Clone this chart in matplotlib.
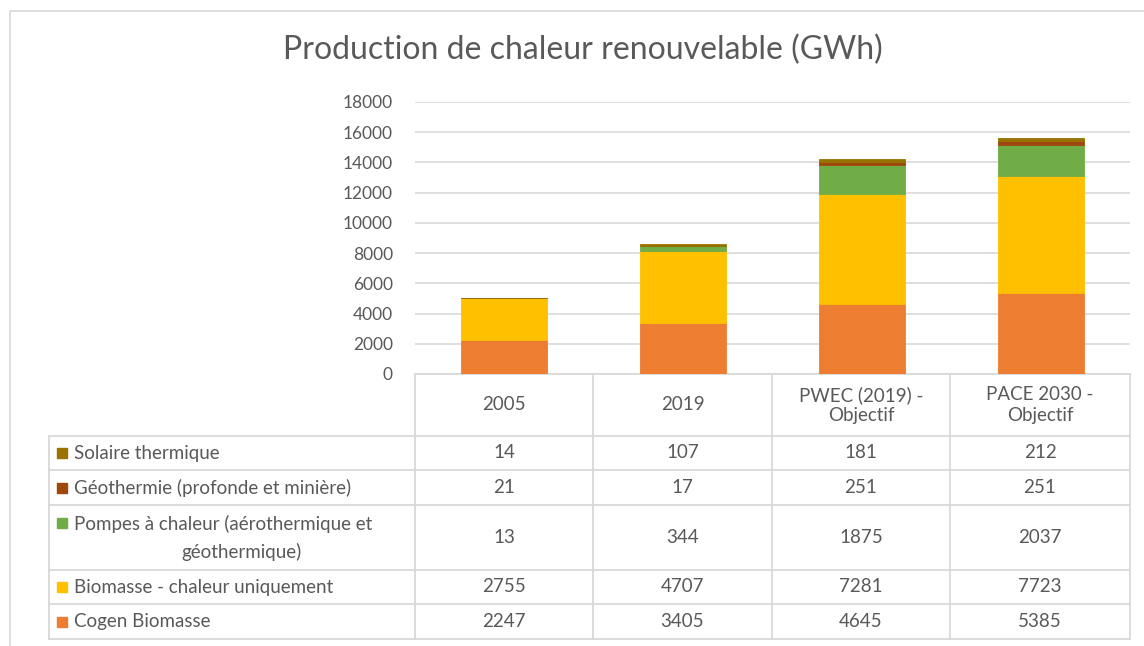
import matplotlib.pyplot as plt
from matplotlib.patches import Rectangle

plt.rcParams['font.family'] = ['Lato', 'DejaVu Sans']

# Data
categories = ["2005", "2019", "PWEC (2019) -\nObjectif", "PACE 2030 -\nObjectif"]
series_names = ["Cogen Biomasse", "Biomasse - chaleur uniquement",
                "Pompes à chaleur (aérothermique et\ngéothermique)",
                "Géothermie (profonde et minière)", "Solaire thermique"]
cogen = [2247, 3405, 4645, 5385]
biomasse = [2755, 4707, 7281, 7723]
pompes = [13, 344, 1875, 2037]
geothermie = [21, 17, 251, 251]
solaire = [14, 107, 181, 212]
series = [cogen, biomasse, pompes, geothermie, solaire]
colors = ["#ED7D31", "#FFC000", "#70AD47", "#9E480E", "#997300"]
yticks = [0, 2000, 4000, 6000, 8000, 10000, 12000, 14000, 16000, 18000]

W, H = 1144, 646
fig = plt.figure(figsize=(W / 100, H / 100), dpi=100)
txt = "#595959"
grid = "#D9D9D9"
fs = 13.5

# overlay in pixel coordinates for frame and table
ov = fig.add_axes([0, 0, 1, 1])
ov.set_xlim(0, W)
ov.set_ylim(H, 0)
ov.axis("off")
ov.add_patch(Rectangle((10, 11), W, H, fill=False, edgecolor=grid, lw=1.2))

# bar axes
x0, x1, ytop, ybot = 415, 1130, 102, 374
ax = fig.add_axes([x0 / W, (H - ybot) / H, (x1 - x0) / W, (ybot - ytop) / H])
ax.set_xlim(-0.5, 3.5)
ax.set_ylim(0, 18000)
bottom = [0, 0, 0, 0]
for vals, col in zip(series, colors):
    ax.bar(range(4), vals, width=0.48, bottom=bottom, color=col,
           edgecolor=col, lw=0.6, zorder=3)
    bottom = [b + v for b, v in zip(bottom, vals)]
ax.set_yticks(yticks)
ax.set_yticklabels([str(t) for t in yticks], fontsize=12.5, color=txt)
ax.tick_params(axis="y", length=0, pad=16)
ax.set_xticks([])
ax.grid(axis="y", color=grid, lw=1.2, zorder=0)
for s in ax.spines.values():
    s.set_visible(False)
ax.patch.set_alpha(0)

fig.text(583 / W, 1 - 50 / H, "Production de chaleur renouvelable (GWh)",
         ha="center", va="center", fontsize=23, color=txt)

# data table
cols = [415, 593, 772, 950, 1130]
rows = [374, 436, 470, 505, 570, 604, 639]
left = 49
lc = dict(color=grid, lw=1.3)
for cx in cols:
    ov.plot([cx, cx], [rows[0], rows[-1]], **lc)
ov.plot([cols[0], cols[-1]], [rows[0], rows[0]], **lc)
ov.plot([left, left], [rows[1], rows[-1]], **lc)
for ry in rows[1:]:
    ov.plot([left, cols[-1]], [ry, ry], **lc)

for j, cat in enumerate(categories):
    ov.text((cols[j] + cols[j + 1]) / 2, (rows[0] + rows[1]) / 2, cat,
            ha="center", va="center", fontsize=fs, color=txt, linespacing=1.25)

order = list(range(len(series)))[::-1]
for i, k in enumerate(order):
    yc = (rows[i + 1] + rows[i + 2]) / 2
    name = series_names[k]
    if "\n" in name:
        first, second = name.split("\n")
        ov.add_patch(Rectangle((57, yc - 20), 10, 10, color=colors[k]))
        ov.text(74, yc - 14, first, ha="left", va="center", fontsize=fs, color=txt)
        ov.text(241, yc + 14, second, ha="center", va="center", fontsize=fs, color=txt)
    else:
        ov.add_patch(Rectangle((57, yc - 5), 10, 10, color=colors[k]))
        ov.text(74, yc, name, ha="left", va="center", fontsize=fs, color=txt)
    for j in range(4):
        ov.text((cols[j] + cols[j + 1]) / 2, yc, str(series[k][j]),
                ha="center", va="center", fontsize=fs, color=txt)

fig.savefig("out.png", dpi=100)
